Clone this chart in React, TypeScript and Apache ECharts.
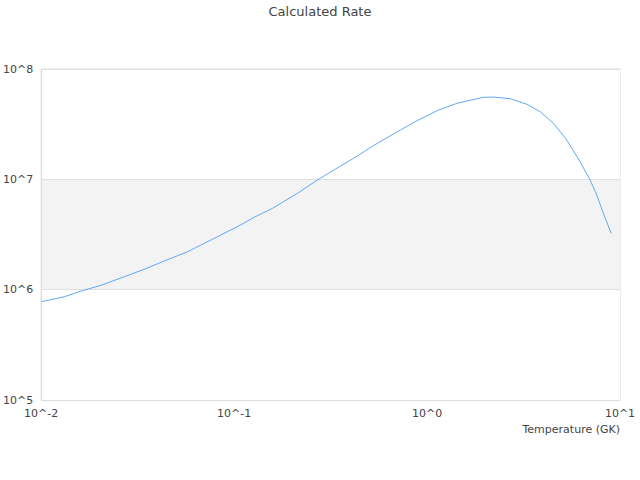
import React, { useEffect, useRef } from "react";
import * as echarts from "echarts";

const temperatures = [
  0.01, 0.0132, 0.0161, 0.0204, 0.027, 0.0342, 0.0434, 0.0574, 0.082, 0.108,
  0.127, 0.158, 0.213, 0.27, 0.356, 0.435, 0.53, 0.728, 0.888, 1.127, 1.43,
  1.611, 1.963, 2.212, 2.698, 3.292, 3.857, 4.519, 5.301, 6.211, 7.0, 7.577,
  8.199, 9.0,
];
const rates = [
  7.78e5, 8.63e5, 9.72e5, 1.095e6, 1.311e6, 1.53e6, 1.819e6, 2.209e6, 3.02e6,
  3.856e6, 4.53e6, 5.46e6, 7.47e6, 9.86e6, 1.321e7, 1.627e7, 2.034e7, 2.8e7,
  3.4e7, 4.19e7, 4.89e7, 5.13e7, 5.54e7, 5.57e7, 5.38e7, 4.79e7, 4.1e7, 3.22e7,
  2.27e7, 1.445e7, 9.86e6, 7.21e6, 4.92e6, 3.24e6,
];

const titleText = "Calculated Rate";
const xAxisName = "Temperature (GK)";

const expLabel = (v: number) => "10^" + Math.round(Math.log10(v));

export default function App() {
  const ref = useRef<HTMLDivElement>(null);
  useEffect(() => {
    if (!ref.current) return;
    const chart = echarts.init(ref.current, null, { renderer: "svg" });
    const font = "DejaVu Sans";
    chart.setOption({
      animation: false,
      title: {
        text: titleText,
        left: "center",
        top: 0,
        textStyle: { fontFamily: font, fontSize: 13, fontWeight: "normal", color: "#444" },
      },
      grid: {
        left: 40,
        right: 20,
        top: 69,
        bottom: 80,
        show: true,
        borderColor: "#dddddd",
        borderWidth: 1,
        containLabel: false,
      },
      xAxis: {
        type: "log",
        logBase: 10,
        min: 0.01,
        max: 10,
        name: xAxisName,
        nameLocation: "end",
        nameGap: 0,
        nameTextStyle: {
          fontFamily: font,
          fontSize: 11,
          color: "#444",
          align: "right",
          verticalAlign: "top",
          padding: [24, 0, 0, 0],
        },
        axisLine: { lineStyle: { color: "#dddddd" } },
        axisTick: { show: false },
        splitLine: { show: false },
        axisLabel: {
          fontFamily: font,
          fontSize: 11,
          color: "#444",
          margin: 8,
          formatter: expLabel,
        },
      },
      yAxis: {
        type: "log",
        logBase: 10,
        min: 1e5,
        max: 1e8,
        axisLine: { show: true, lineStyle: { color: "#dddddd" } },
        axisTick: { show: false },
        splitLine: { show: true, lineStyle: { color: "#e0e0e0" } },
        splitArea: { show: true, areaStyle: { color: ["#ffffff", "#f3f3f3"] } },
        axisLabel: {
          fontFamily: font,
          fontSize: 11,
          color: "#444",
          margin: 8,
          formatter: expLabel,
        },
      },
      series: [
        {
          type: "line",
          data: temperatures.map((t, i) => [t, rates[i]]),
          showSymbol: false,
          symbol: "none",
          lineStyle: { color: "#62a8f2", width: 1 },
        },
      ],
    });
    return () => chart.dispose();
  }, []);
  return (
    <div
      ref={ref}
      style={{ position: "absolute", left: 0, top: 0, width: 640, height: 480 }}
    />
  );
}
